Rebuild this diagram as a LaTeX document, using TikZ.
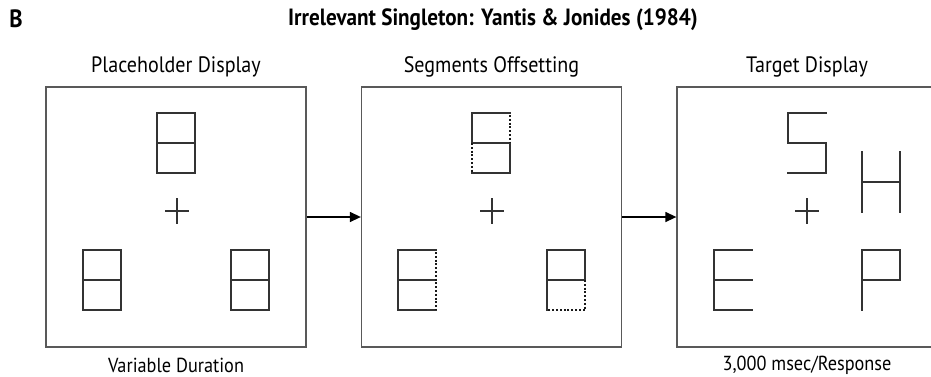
\documentclass[tikz,border=0pt]{standalone}
\usepackage{fontspec}
\setmainfont{PT Sans}[FakeStretch=0.9]
\usetikzlibrary{arrows.meta}

\tikzset{
  panel/.style={draw=black!65, line width=1.3pt, minimum width=260pt, minimum height=260pt, inner sep=0pt},
  seg/.style={draw=black!80, line width=1.8pt, line cap=rect},
  dotseg/.style={draw=black!90, line width=2.1pt, dash pattern=on 2pt off 1.8pt},
  flow/.style={draw=black, line width=1.4pt, -{Triangle[length=11pt,width=10pt]}},
  head/.style={font=\fontsize{22.3}{25}\selectfont, inner sep=0pt},
  foot/.style={font=\fontsize{20.3}{23}\selectfont, inner sep=0pt},
}

% one seven-segment style figure, 38 wide and 60 high, top-left corner at (#1,#2)
\newcommand\figat[3]{\begin{scope}[shift={(#1,#2)}]#3\end{scope}}
\newcommand\fixplus[2]{\draw[seg,line cap=butt] (#1-12,#2) -- (#1+12,#2) (#1,#2-13) -- (#1,#2+13);}

\begin{document}
\begin{tikzpicture}[x=1pt,y=-1pt]
\useasboundingbox (0,0) rectangle (931,376);
\clip (0,0) rectangle (931,376);

% headings
\node[font=\bfseries\fontsize{25}{28}\selectfont, inner sep=0pt] (lbl) at (16,19) {B};
\node[font=\bfseries\fontsize{23.5}{26}\selectfont, inner sep=0pt] (ttl) at (493,20) {Irrelevant Singleton: Yantis \& Jonides (1984)};

% the three displays
\node[panel] (p1) at (176,217) {};
\node[panel] (p2) at (491.5,217) {};
\node[panel] (p3) at (807,217) {};

\node[head] (h1) at (176,67) {Placeholder Display};
\node[head] (h2) at (491.5,67) {Segments Offsetting};
\node[head] (h3) at (807,67) {Target Display};

\node[foot] (f1) at (176,365) {Variable Duration};
\node[foot] (f3) at (807,365) {3,000 msec/Response};

\draw[flow] (p1.east) -- (p2.west);
\draw[flow] (p2.east) -- (p3.west);

% placeholder display: three figure-eights around fixation
\figat{157}{113}{\draw[seg] (0,0) rectangle (38,60) (0,30) -- (38,30);}
\figat{83}{250}{\draw[seg] (0,0) rectangle (38,60) (0,30) -- (38,30);}
\figat{231}{250}{\draw[seg] (0,0) rectangle (38,60) (0,30) -- (38,30);}
\fixplus{177}{211}

% segments offsetting: dotted segments are the ones being removed
\figat{472}{113}{
  \draw[seg] (38,0) -- (0,0) -- (0,30) -- (38,30) -- (38,60) -- (0,60);
  \draw[dotseg] (38,2) -- (38,30) (0,30) -- (0,60);}
\figat{398}{250}{
  \draw[seg] (38,0) -- (0,0) -- (0,60) -- (38,60) (0,30) -- (38,30);
  \draw[dotseg] (38,2) -- (38,60);}
\figat{547}{250}{
  \draw[seg] (0,60) -- (0,0) -- (38,0) -- (38,30) -- (0,30);
  \draw[dotseg] (38,30) -- (38,60) -- (0,60);}
\fixplus{492}{211}

% target display: S, E, P and the onset letter H
\figat{788}{113}{\draw[seg] (38,0) -- (0,0) -- (0,30) -- (38,30) -- (38,60) -- (0,60);}
\figat{862}{152}{\draw[seg] (0,0) -- (0,60) (38,0) -- (38,60) (0,30) -- (38,30);}
\figat{714}{250}{\draw[seg] (38,0) -- (0,0) -- (0,60) -- (38,60) (0,30) -- (38,30);}
\figat{862}{250}{\draw[seg] (0,60) -- (0,0) -- (38,0) -- (38,30) -- (0,30);}
\fixplus{807}{211}
\end{tikzpicture}
\end{document}
